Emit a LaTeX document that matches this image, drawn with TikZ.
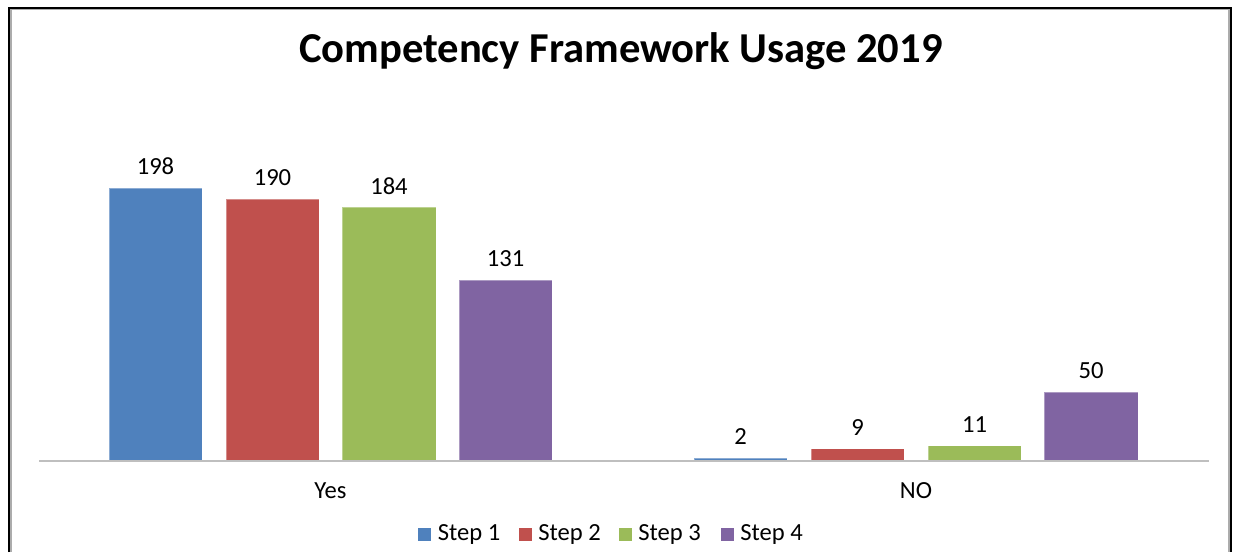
\documentclass[tikz,border=0pt]{standalone}
\usepackage{fontspec}
\setmainfont{Carlito}
\usetikzlibrary{positioning}
\definecolor{stepblue}{HTML}{4F81BD}
\definecolor{stepred}{HTML}{C0504D}
\definecolor{stepgreen}{HTML}{9BBB59}
\definecolor{steppurple}{HTML}{8064A2}
\definecolor{axisgray}{HTML}{BFBFBF}
\begin{document}
\begin{tikzpicture}[x=0.5pt,y=-0.5pt,
val/.style={font=\fontsize{12.3}{14}\selectfont,inner sep=0pt},
cat/.style={font=\fontsize{12.3}{14}\selectfont,inner sep=0pt},
key/.style={minimum size=6.5pt,inner sep=0pt},
keytext/.style={font=\fontsize{12.3}{14}\selectfont,inner sep=0pt,right=3pt of #1},
bar/.style={draw=white,draw opacity=0.35,line width=0.4pt}
]
\useasboundingbox (0,0) rectangle (1236,552);
% frame
\draw[line width=1pt] (8.5,552) |- (1231,7.5) -- (1231,552);
\draw[axisgray!70!gray,line width=0.6pt] (11,552) |- (1229,9.8) -- (1229,552);
% title
\node[font=\fontsize{21.3}{25}\selectfont\bfseries] (title) at (621,51) {Competency Framework Usage 2019};
% bars, Yes
\fill[stepblue,bar] (109,461) rectangle (202,188.0);
\fill[stepred,bar] (226,461) rectangle (319,199.0);
\fill[stepgreen,bar] (342,461) rectangle (436,207.3);
\fill[steppurple,bar] (459,461) rectangle (552,280.4);
% bars, NO
\fill[stepblue,bar] (694,461) rectangle (787,458.2);
\fill[stepred,bar] (811,461) rectangle (904,448.6);
\fill[stepgreen,bar] (928,461) rectangle (1021,445.8);
\fill[steppurple,bar] (1044,461) rectangle (1138,392.1);
% axis
\draw[axisgray,line width=0.8pt] (39,461) -- (1209,461);
% values
\node[val] (yes1) at (155.5,166.5) {198};
\node[val] (yes2) at (272.5,177.5) {190};
\node[val] (yes3) at (389,185.8) {184};
\node[val] (yes4) at (505.5,258.9) {131};
\node[val] (no1) at (740.5,436.7) {2};
\node[val] (no2) at (857.5,427.1) {9};
\node[val] (no3) at (974.5,424.3) {11};
\node[val] (no4) at (1091,370.6) {50};
% categories
\node[cat] (yes) at (330.5,491) {Yes};
\node[cat] (no) at (916,491) {NO};
% legend
\node[key,fill=stepblue] (k1) at (424.5,534) {};
\node[keytext=k1] (l1) {Step 1};
\node[key,fill=stepred] (k2) at (525,534) {};
\node[keytext=k2] (l2) {Step 2};
\node[key,fill=stepgreen] (k3) at (625,534) {};
\node[keytext=k3] (l3) {Step 3};
\node[key,fill=steppurple] (k4) at (727,534) {};
\node[keytext=k4] (l4) {Step 4};
\end{tikzpicture}
\end{document}
